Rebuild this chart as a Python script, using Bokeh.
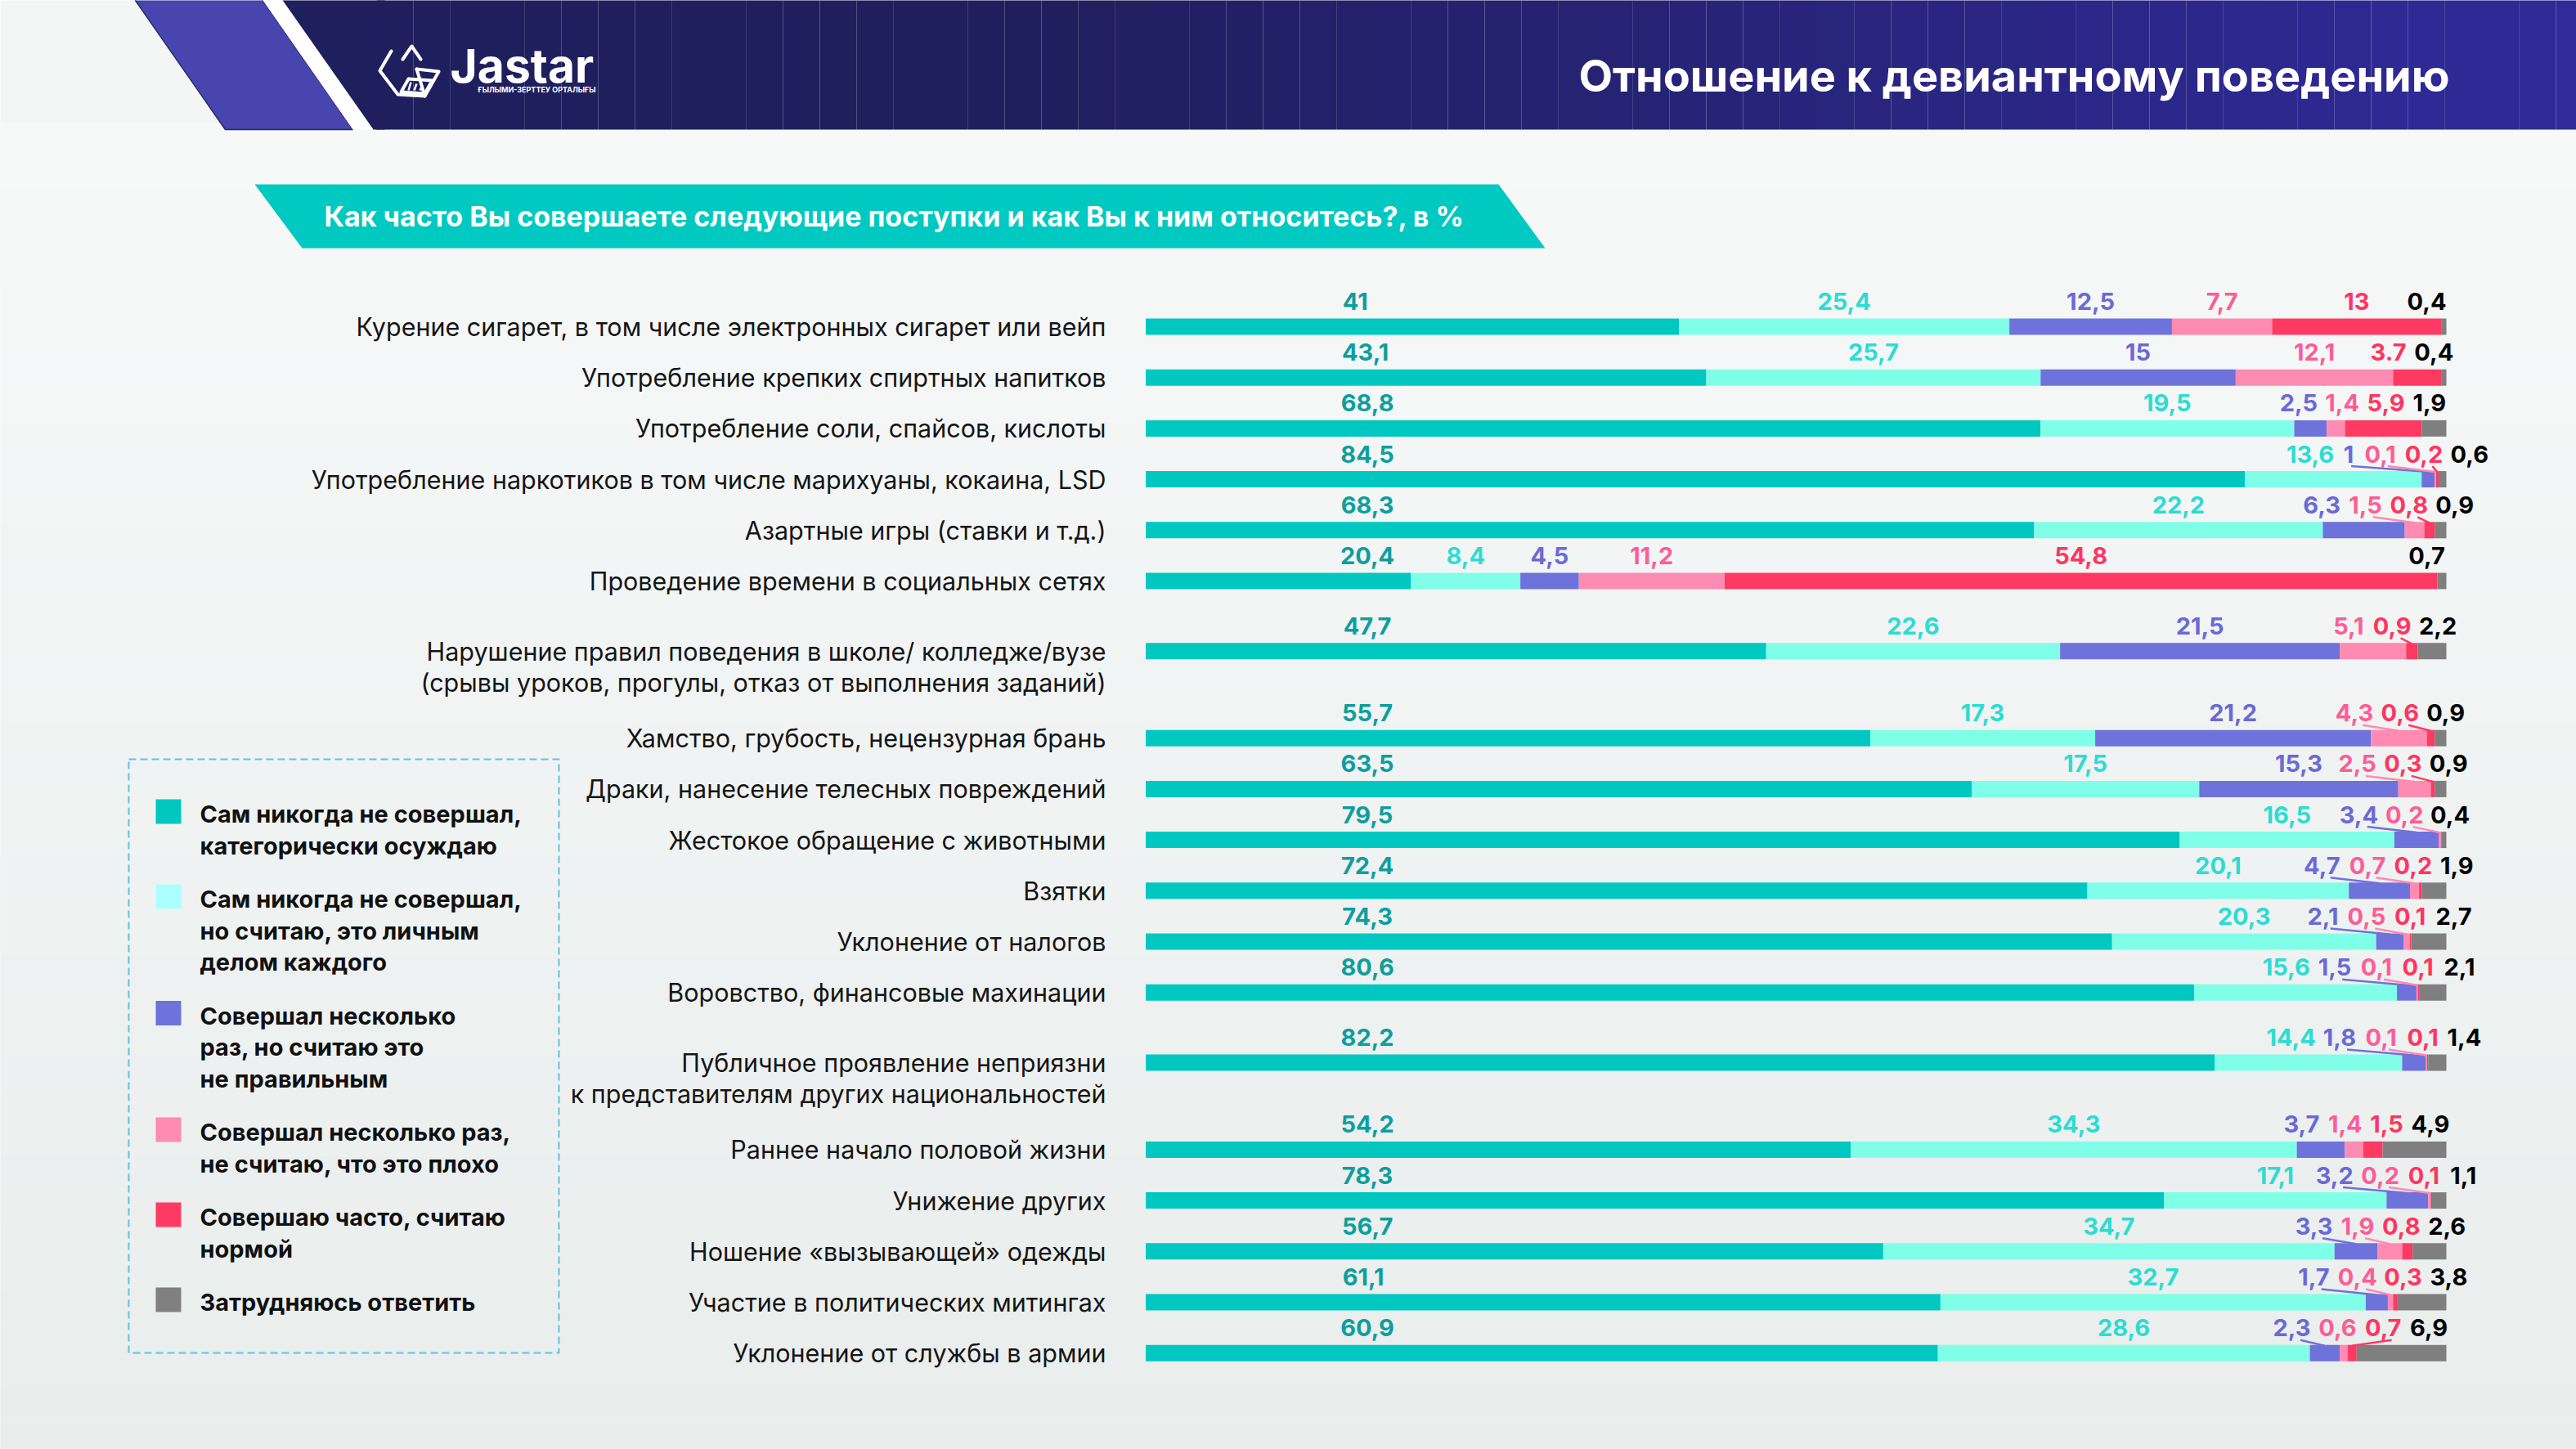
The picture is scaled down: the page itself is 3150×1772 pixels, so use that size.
import numpy as np
from bokeh.plotting import figure
from bokeh.models import Range1d
from bokeh.core.properties import value
from bokeh.embed import file_html
from bokeh.resources import INLINE

# ---------------- data ----------------
categories = [
    "Курение сигарет, в том числе электронных сигарет или вейп",
    "Употребление крепких спиртных напитков",
    "Употребление соли, спайсов, кислоты",
    "Употребление наркотиков в том числе марихуаны, кокаина, LSD",
    "Азартные игры (ставки и т.д.)",
    "Проведение времени в социальных сетях",
    "Нарушение правил поведения в школе/ колледже/вузе\n(срывы уроков, прогулы, отказ от выполнения заданий)",
    "Хамство, грубость, нецензурная брань",
    "Драки, нанесение телесных повреждений",
    "Жестокое обращение с животными",
    "Взятки",
    "Уклонение от налогов",
    "Воровство, финансовые махинации",
    "Публичное проявление неприязни\nк представителям других национальностей",
    "Раннее начало половой жизни",
    "Унижение других",
    "Ношение «вызывающей» одежды",
    "Участие в политических митингах",
    "Уклонение от службы в армии",
]

series_names = [
    "Сам никогда не совершал,\nкатегорически осуждаю",
    "Сам никогда не совершал,\nно считаю, это личным\nделом каждого",
    "Совершал несколько\nраз, но считаю это\nне правильным",
    "Совершал несколько раз,\nне считаю, что это плохо",
    "Совершаю часто, считаю\nнормой",
    "Затрудняюсь ответить",
]

never_condemn = [41, 43.1, 68.8, 84.5, 68.3, 20.4, 47.7, 55.7, 63.5, 79.5, 72.4, 74.3, 80.6, 82.2, 54.2, 78.3, 56.7, 61.1, 60.9]
never_personal = [25.4, 25.7, 19.5, 13.6, 22.2, 8.4, 22.6, 17.3, 17.5, 16.5, 20.1, 20.3, 15.6, 14.4, 34.3, 17.1, 34.7, 32.7, 28.6]
few_times_wrong = [12.5, 15, 2.5, 1, 6.3, 4.5, 21.5, 21.2, 15.3, 3.4, 4.7, 2.1, 1.5, 1.8, 3.7, 3.2, 3.3, 1.7, 2.3]
few_times_ok = [7.7, 12.1, 1.4, 0.1, 1.5, 11.2, 5.1, 4.3, 2.5, 0.2, 0.7, 0.5, 0.1, 0.1, 1.4, 0.2, 1.9, 0.4, 0.6]
often_normal = [13, 3.7, 5.9, 0.2, 0.8, 54.8, 0.9, 0.6, 0.3, 0, 0.2, 0.1, 0.1, 0.1, 1.5, 0.1, 0.8, 0.3, 0.7]
hard_to_say = [0.4, 0.4, 1.9, 0.6, 0.9, 0.7, 2.2, 0.9, 0.9, 0.4, 1.9, 2.7, 2.1, 1.4, 4.9, 1.1, 2.6, 3.8, 6.9]

# label text as printed in the original (one value is printed with a dot there)
label_overrides = {(1, 4): "3.7"}

title_text = "Отношение к девиантному поведению"
subtitle_text = "Как часто Вы совершаете следующие поступки и как Вы к ним относитесь?, в %"

# ---------------- styles ----------------
bar_colors = ["#00C8C0", "#80FFE8", "#6E72DB", "#FF8AB2", "#FF3A62", "#7F7F7F"]
label_colors = ["#0E9E9E", "#2CDCD3", "#6A6AD6", "#FF5C97", "#FF3560", "#000000"]
legend_colors = ["#00C8C0", "#ABFFFF", "#6E72DB", "#FF8AB2", "#FF3A62", "#808080"]
FONT = value("Inter")

W, H = 3150, 1772
BAR0_PX, PX_PER_PCT = 1400.6, 15.904   # where 0 % sits, px per 1 %
ROW0_PX, PX_PER_ROW = 399.0, 62.2      # first row centre, px per row unit


def X(px):  # page pixel -> x data (percent)
    return (px - BAR0_PX) / PX_PER_PCT


def Y(py):  # page pixel -> y data (row units)
    return (py - ROW0_PX) / PX_PER_ROW


p = figure(width=W, height=H, output_backend="svg", toolbar_location=None,
           x_range=Range1d(X(0), X(W)), y_range=Range1d(Y(H), Y(0)),
           x_axis_type=None, y_axis_type=None, min_border=0,
           background_fill_color="#F3F6F5", border_fill_color="#F3F6F5",
           outline_line_color=None)
p.xgrid.visible = False
p.ygrid.visible = False

# ---------------- background ----------------
def lerp_hex(c1, c2, t):
    a = [int(c1[i:i + 2], 16) for i in (1, 3, 5)]
    b = [int(c2[i:i + 2], 16) for i in (1, 3, 5)]
    return "#%02x%02x%02x" % tuple(int(round(a[k] + (b[k] - a[k]) * t)) for k in range(3))


nb = 40
ys = np.linspace(150, 1780, nb + 1)
p.quad(left=X(-10), right=X(3170), top=[Y(v) for v in ys[:-1]], bottom=[Y(v) for v in ys[1:]],
       fill_color=[lerp_hex("#F7F9F9", "#E9EDEC", i / (nb - 1)) for i in range(nb)], line_color=None)

# header band (gradient navy)
p.patch([X(v) for v in (338, 470, 470, 456)], [Y(v) for v in (-10, -10, 158, 158)],
        fill_color="#201F5E", line_color=None)
nh = 60
xs = np.linspace(460, 3170, nh + 1)
p.quad(left=[X(v) for v in xs[:-1]], right=[X(v) for v in xs[1:]], top=Y(-10), bottom=Y(158),
       fill_color=[lerp_hex("#201F5E", "#302A9A", max(0.0, (0.5 * (xs[i] + xs[i + 1]) - 1300) / 1850)) for i in range(nh)],
       line_color=None)
p.patch([X(v) for v in (158, 314, 431, 275)], [Y(v) for v in (-10, -10, 158, 158)],
        fill_color="#4845AE", line_color="#2A2870", line_width=1.5)
p.patch([X(v) for v in (314, 338, 456, 431)], [Y(v) for v in (-10, -10, 158, 158)],
        fill_color="#FFFFFF", line_color=None)

# logo
icon_x = [[478, 464, 486, 519, 536, 509], [509, 519], [492, 503, 514], [499, 528, 519, 490, 499]]
icon_y = [[62, 86, 115, 117, 87, 84], [84, 117], [72, 56, 72], [96, 98, 114, 112, 96]]
p.multi_line([[X(v) for v in a] for a in icon_x], [[Y(v) for v in a] for a in icon_y],
             line_color="white", line_width=4, line_join="round", line_cap="round")
p.multi_line([[X(v), X(v + 3)] for v in (499, 506, 513)], [[Y(110), Y(100 + 2 * k)] for k in range(3)],
             line_color="white", line_width=2.5)
p.text(x=[X(550)], y=[Y(80)], text=["Jastar"], text_font=FONT, text_font_style="bold",
       text_font_size="57px", text_color="white", text_align="left", text_baseline="middle")
p.text(x=[X(584)], y=[Y(109)], text=["ҒЫЛЫМИ-ЗЕРТТЕУ ОРТАЛЫҒЫ"], text_font=FONT, text_font_style="bold",
       text_font_size="9px", text_color="white", text_align="left", text_baseline="middle")

# title
p.text(x=[X(2995)], y=[Y(92)], text=[title_text], text_font=FONT, text_font_style="bold",
       text_font_size="54px", text_color="white", text_align="right", text_baseline="middle")

# subtitle banner
p.patch([X(v) for v in (311, 1832, 1889, 369)], [Y(v) for v in (225, 225, 303, 303)],
        fill_color="#00C9C1", line_color=None)
p.text(x=[X(396)], y=[Y(264)], text=[subtitle_text], text_font=FONT, text_font_style="bold",
       text_font_size="34px", text_color="white", text_align="left", text_baseline="middle")

# ---------------- rows ----------------
vals = np.array([never_condemn, never_personal, few_times_wrong, few_times_ok, often_normal, hard_to_say]).T
n_rows, n_ser = vals.shape
rights = np.cumsum(vals, axis=1)
lefts = rights - vals

# vertical row positions: two-line labels get extra room
row_y = []
cur = 0.0
for i, lab in enumerate(categories):
    two = "\n" in lab
    if two and i > 0:
        cur += 0.38
    row_y.append(cur)
    cur += 1.0 + (0.71 if two else 0.0)
row_y = np.array(row_y)

BAR_H = 20 / PX_PER_ROW
for k in range(n_ser):
    p.hbar(y=row_y, left=lefts[:, k], right=rights[:, k], height=BAR_H,
           fill_color=bar_colors[k], line_color=None)

# category labels
cx, cy, ct = [], [], []
for i, lab in enumerate(categories):
    for j, line in enumerate(lab.split("\n")):
        cx.append(X(1352))
        cy.append(row_y[i] + j * 38 / PX_PER_ROW)
        ct.append(line)
p.text(x=cx, y=cy, text=ct, text_font=FONT, text_font_size="30.5px", text_color="#151515",
       text_align="right", text_baseline="middle")


# ---------------- value labels ----------------
def fmt(v):
    return ("%g" % v).replace(".", ",")


def est_w(s):
    w = 0.0
    for ch in s:
        w += 7.5 if ch in ",." else (12.0 if ch == "1" else 17.0)
    return w / PX_PER_PCT


def spread(desired, widths, weights, gap):
    n = len(desired)
    clusters = [[i] for i in range(n)]

    def place(cl):
        offs = [0.0]
        for a, b in zip(cl[:-1], cl[1:]):
            offs.append(offs[-1] + (widths[a] + widths[b]) / 2 + gap)
        ws = sum(weights[i] for i in cl)
        base = sum(weights[i] * (desired[i] - o) for i, o in zip(cl, offs)) / ws
        return [base + o for o in offs]

    while True:
        pos = [place(c) for c in clusters]
        merged = False
        for j in range(len(clusters) - 1):
            a, b = clusters[j][-1], clusters[j + 1][0]
            if pos[j + 1][0] - pos[j][-1] < (widths[a] + widths[b]) / 2 + gap - 1e-9:
                clusters[j] = clusters[j] + clusters[j + 1]
                del clusters[j + 1]
                merged = True
                break
        if not merged:
            break
    out = [0.0] * n
    for c, ps in zip(clusters, pos):
        for i, v in zip(c, ps):
            out[i] = v
    return out


FIRST_LEFT = 15.2
LAB_DY = -31 / PX_PER_ROW
lab = {k: dict(x=[], y=[], t=[]) for k in range(n_ser)}
lead = {k: dict(xs=[], ys=[]) for k in range(n_ser)}
for r in range(n_rows):
    ks = [k for k in range(n_ser) if vals[r, k] > 0]
    texts = [label_overrides.get((r, k), fmt(vals[r, k])) for k in ks]
    widths = [est_w(t) for t in texts]
    desired, weights = [], []
    for k, w in zip(ks, widths):
        if k == 0:
            desired.append(FIRST_LEFT + w / 2); weights.append(1000.0)
        elif k == n_ser - 1:
            desired.append(99.8 - w / 2); weights.append(4.0)
        else:
            desired.append((lefts[r, k] + rights[r, k]) / 2); weights.append(1.0)
    pos = spread(desired, widths, weights, 0.9)
    for k, t, w, x in zip(ks, texts, widths, pos):
        lab[k]["x"].append(x); lab[k]["y"].append(row_y[r] + LAB_DY); lab[k]["t"].append(t)
        if k in (2, 3, 4) and (x < lefts[r, k] - 0.6 or x > rights[r, k] + 0.6):
            lead[k]["xs"].append([x + 0.25 * w, (lefts[r, k] + rights[r, k]) / 2])
            lead[k]["ys"].append([row_y[r] - 16 / PX_PER_ROW, row_y[r] - 9 / PX_PER_ROW])

for k in range(n_ser):
    if lead[k]["xs"]:
        p.multi_line(lead[k]["xs"], lead[k]["ys"], line_color=bar_colors[k], line_width=2.5)
    p.text(x=lab[k]["x"], y=lab[k]["y"], text=lab[k]["t"], text_font=FONT, text_font_style="bold",
           text_font_size="29px", text_color=label_colors[k], text_align="center", text_baseline="middle")

# ---------------- legend ----------------
p.quad(left=X(157), right=X(683), top=Y(928), bottom=Y(1654), fill_color=None,
       line_color="#5BC4E5", line_width=2, line_dash="9 5")
ly = 995.0
sy, lx, lyy, lt = [], [], [], []
for k, name in enumerate(series_names):
    lines = name.split("\n")
    sy.append(ly - 3)
    for j, line in enumerate(lines):
        lx.append(X(244)); lyy.append(Y(ly + j * 38.5)); lt.append(line)
    ly += len(lines) * 38.5 + 27
p.quad(left=X(190), right=X(221), top=[Y(v - 15) for v in sy], bottom=[Y(v + 15) for v in sy],
       fill_color=legend_colors, line_color=None)
p.text(x=lx, y=lyy, text=lt, text_font=FONT, text_font_style="bold", text_font_size="29px",
       text_color="#111111", text_align="left", text_baseline="middle")

open("out.html", "w").write(file_html(p, INLINE))
